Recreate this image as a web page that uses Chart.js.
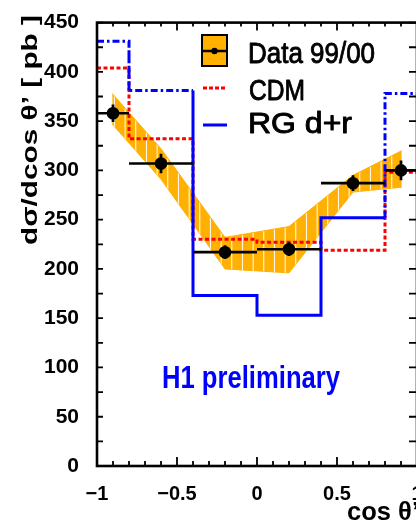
<!DOCTYPE html>
<html><head><meta charset="utf-8">
<script src="https://cdn.jsdelivr.net/npm/chart.js@4.4.1/dist/chart.umd.min.js"></script>
<style>
html,body{margin:0;padding:0;background:#fff;overflow:hidden;}
#wrap{width:416px;height:525px;overflow:hidden;position:relative;background:#fff;}
canvas{display:block;}
</style></head><body>
<div id="wrap"><canvas id="c" width="432" height="525"></canvas></div>
<script>
// ---- data ----
const binEdges   = [-1, -0.8, -0.4, 0, 0.4, 0.8, 1];
const dataX      = [-0.9, -0.6, -0.2, 0.2, 0.6, 0.9];
const dataY      = [358, 307, 217, 220, 287, 300];
const dataErr    = [9, 10, 7, 7, 8, 10];
const cdmValues  = [404, 332, 230, 227, 219, 298];
const rgValues   = [431, 381, 173, 153, 252, 378];
const bandX      = [-0.905, -0.6, -0.2, 0.2, 0.6, 0.905];
const bandUpper  = [378, 322, 232, 243, 295, 320];
const bandLower  = [347, 291, 200, 196, 278, 283];
const xTickValues = [-1, -0.5, 0, 0.5, 1];
const xTickLabels = ['\u22121', '\u22120.5', '0', '0.5', '1'];
const yTickValues = [0, 50, 100, 150, 200, 250, 300, 350, 400, 450];
const yTickLabels = ['0', '50', '100', '150', '200', '250', '300', '350', '400', '450'];
const seriesLabels = ['Data 99/00', 'CDM', 'RG d+r'];
const yTitle = 'd\u03C3/dcos \u03B8\u2019 [ pb ]';
const xTitle = 'cos \u03B8\u2019';
const noteText = 'H1 preliminary';

const FONT = "'Liberation Sans', Arial, Helvetica, sans-serif";
const ORANGE = '#ffb000';

function stepPoints(vals) {
  const pts = [];
  vals.forEach((v, i) => { pts.push({x: binEdges[i], y: v}); pts.push({x: binEdges[i + 1], y: v}); });
  return pts;
}
const zip = (xs, ys) => xs.map((x, i) => ({x, y: ys[i]}));

// hatch pattern for the data band
const pc = document.createElement('canvas');
pc.width = 32; pc.height = 4;
const pctx = pc.getContext('2d');
pctx.fillStyle = ORANGE; pctx.fillRect(0, 0, 32, 4);
pctx.fillStyle = 'rgba(255,255,255,0.9)';
[7.2, 17.9, 28.6].forEach(x => pctx.fillRect(x, 0, 1.1, 4));
const ctx = document.getElementById('c').getContext('2d');
const hatch = ctx.createPattern(pc, 'repeat');

const blueDashSeg = [0, 1, 2, 9, 10];
const DASHDOT = [7, 3, 2.5, 3];

function drawFit(c, text, x, y, font, color, width, align, strokeW) {
  c.save();
  c.font = font;
  const w = c.measureText(text).width;
  const s = width ? width / w : 1;
  c.translate(x, y);
  c.scale(s, 1);
  c.fillStyle = color;
  c.textAlign = align || 'left';
  c.textBaseline = 'alphabetic';
  c.fillText(text, 0, 0);
  if (strokeW) { c.strokeStyle = color; c.lineWidth = strokeW; c.lineJoin = 'round'; c.strokeText(text, 0, 0); }
  c.restore();
}

const DATA_IDX = 4;
const decor = {
  id: 'decor',
  beforeDatasetDraw(chart, args) {
    if (args.index !== DATA_IDX) return;
    const c = chart.ctx, xs = chart.scales.x, ys = chart.scales.y;
    c.save();
    c.strokeStyle = '#000'; c.lineWidth = 2.7; c.lineCap = 'butt';
    dataX.forEach((x, i) => {
      const py = ys.getPixelForValue(dataY[i]);
      c.beginPath();
      c.moveTo(xs.getPixelForValue(binEdges[i]), py);
      c.lineTo(xs.getPixelForValue(binEdges[i + 1]), py);
      const px = xs.getPixelForValue(x);
      c.moveTo(px, ys.getPixelForValue(dataY[i] + dataErr[i]));
      c.lineTo(px, ys.getPixelForValue(dataY[i] - dataErr[i]));
      c.stroke();
    });
    c.restore();
  },
  afterDatasetsDraw(chart) {
    const c = chart.ctx, a = chart.chartArea, xs = chart.scales.x, ys = chart.scales.y;
    c.save();
    c.strokeStyle = '#000';
    c.lineWidth = 1.8;
    for (let i = 0; i <= 18; i++) {
      const py = ys.getPixelForValue(i * 25);
      c.beginPath();
      c.moveTo(a.left, py); c.lineTo(a.left + 6, py);
      c.moveTo(a.right, py); c.lineTo(a.right - 8, py);
      c.stroke();
    }
    for (let i = 0; i <= 20; i++) {
      const px = xs.getPixelForValue(-1 + i / 10);
      const major = i % 5 === 0;
      c.beginPath();
      c.moveTo(px, a.bottom); c.lineTo(px, a.bottom - (major ? 9 : 5));
      c.moveTo(px, a.top); c.lineTo(px, a.top + (major ? 8 : 4));
      c.stroke();
    }
    c.lineWidth = 2.6;
    c.strokeRect(a.left, a.top, a.right - a.left, a.bottom - a.top);
    c.restore();
  },
  afterDraw(chart) {
    const c = chart.ctx;
    // legend
    c.save();
    c.fillStyle = ORANGE; c.fillRect(202, 35, 25, 31);
    c.strokeStyle = '#000'; c.lineWidth = 2; c.strokeRect(202, 35, 25, 31);
    c.beginPath(); c.moveTo(202, 51); c.lineTo(227, 51); c.lineWidth = 2.5; c.stroke();
    c.beginPath(); c.arc(214.5, 51, 3.2, 0, Math.PI * 2); c.fillStyle = '#000'; c.fill();
    c.strokeStyle = '#ff0000'; c.lineWidth = 3; c.setLineDash([4, 2]);
    c.beginPath(); c.moveTo(203, 88); c.lineTo(227, 88); c.stroke();
    c.setLineDash([]);
    c.strokeStyle = '#0000ff'; c.lineWidth = 3;
    c.beginPath(); c.moveTo(203, 125); c.lineTo(227, 125); c.stroke();
    c.restore();
    drawFit(c, seriesLabels[0], 248, 63, '29px ' + FONT, '#000', 127, 'left', 0.9);
    drawFit(c, seriesLabels[1], 249, 100, '29px ' + FONT, '#000', 56, 'left', 0.9);
    drawFit(c, seriesLabels[2], 248, 133, '29px ' + FONT, '#000', 104, 'left', 0.9);
    // note
    drawFit(c, noteText, 162, 388, 'bold 31px ' + FONT, '#0000ff', 178);
    // x title
    drawFit(c, xTitle, 419, 520, 'bold 25px ' + FONT, '#000', 72, 'right');
    // y title (rotated)
    c.save();
    c.translate(37, 245);
    c.rotate(-Math.PI / 2);
    drawFit(c, yTitle, 0, 0, 'bold 22px ' + FONT, '#000', 230);
    c.restore();
  }
};

new Chart(ctx, {
  type: 'line',
  data: {
    datasets: [
      { label: 'band-up', data: zip(bandX, bandUpper), borderColor: ORANGE, borderWidth: 1,
        pointRadius: 0, fill: '+1', backgroundColor: hatch, order: 3 },
      { label: 'band-lo', data: zip(bandX, bandLower), borderColor: ORANGE, borderWidth: 1,
        pointRadius: 0, fill: false, order: 4 },
      { label: seriesLabels[1], data: stepPoints(cdmValues), borderColor: '#ff0000', borderWidth: 3,
        borderDash: [4, 2.5], pointRadius: 0, fill: false, order: 2 },
      { label: seriesLabels[2], data: stepPoints(rgValues), borderColor: '#0000ff', borderWidth: 3,
        pointRadius: 0, fill: false, order: 1,
        segment: { borderDash: s => blueDashSeg.includes(s.p0DataIndex) ? DASHDOT : undefined } },
      { label: seriesLabels[0], data: zip(dataX, dataY), showLine: false, pointRadius: 6.3,
        pointBackgroundColor: '#000', pointBorderWidth: 0, pointHoverRadius: 6.3, order: 0 }
    ]
  },
  options: {
    responsive: false,
    animation: false,
    devicePixelRatio: 1,
    layout: { padding: { top: 15, right: 15, left: 0, bottom: 0 } },
    plugins: { legend: { display: false }, tooltip: { enabled: false } },
    events: [],
    scales: {
      x: {
        type: 'linear', min: -1, max: 1,
        afterBuildTicks: s => { s.ticks = xTickValues.map(v => ({value: v})); },
        afterFit: s => { s.height = 59; },
        grid: { display: false }, border: { display: false },
        ticks: { autoSkip: false, maxRotation: 0, padding: 8, color: '#000',
                 font: { family: FONT, size: 20, weight: 'bold' },
                 callback: (v, i) => xTickLabels[i] }
      },
      y: {
        type: 'linear', min: 0, max: 450,
        afterBuildTicks: s => { s.ticks = yTickValues.map(v => ({value: v})); },
        afterFit: s => { s.width = 97; },
        grid: { display: false }, border: { display: false },
        ticks: { autoSkip: false, padding: 10, color: '#000',
                 font: { family: FONT, size: 21, weight: 'bold' },
                 callback: (v, i) => yTickLabels[i] }
      }
    }
  },
  plugins: [decor]
});
</script>
</body></html>
